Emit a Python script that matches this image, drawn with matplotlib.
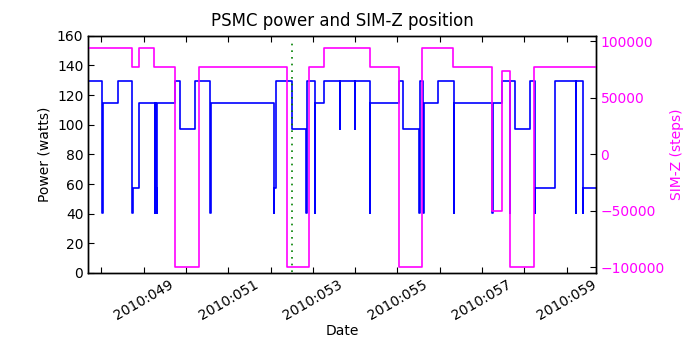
import matplotlib
matplotlib.use("Agg")
import matplotlib.pyplot as plt
import numpy as np

# times are 2010 day-of-year (fractional days)
power_time = [47.69, 48.017, 48.027, 48.387, 48.725, 48.735, 48.898, 49.257,
              49.267, 49.292, 49.305, 49.316, 49.734, 49.859, 50.221, 50.568,
              50.585, 52.080, 52.090, 52.120, 52.498, 52.836, 52.867, 53.048,
              53.058, 53.261, 53.639, 53.649, 53.993, 54.003, 54.348, 54.358,
              55.026, 55.134, 55.505, 55.522, 55.607, 55.617, 55.961, 56.332,
              56.342, 57.246, 57.256, 57.473, 57.655, 57.665, 57.773, 58.127,
              58.245, 58.255, 58.718, 59.214, 59.224, 59.387, 59.397, 59.69]
power = [129.4, 40.2, 114.6, 129.4, 40.2, 57.4, 114.6, 40.2,
         114.6, 57.4, 40.2, 114.6, 129.4, 97.1, 129.4, 40.2,
         114.6, 40.2, 57.4, 129.4, 97.1, 40.2, 129.4, 40.2,
         114.6, 129.4, 97.1, 129.4, 97.1, 129.4, 40.2, 114.6,
         129.4, 97.1, 40.2, 129.4, 40.2, 114.6, 129.4, 40.2,
         114.6, 40.2, 114.6, 129.4, 40.2, 129.4, 97.1, 129.4,
         40.2, 57.4, 129.4, 40.2, 129.4, 40.2, 57.4, 57.4]

simz_time = [47.69, 48.725, 48.898, 49.252, 49.734, 50.301, 52.380, 52.907,
             53.261, 54.348, 55.026, 55.576, 56.316, 57.246, 57.473, 57.655,
             58.229, 59.69]
simz = [94400, 77000, 94400, 77000, -99600, 77000, -99600, 77000,
        94400, 77000, -99600, 94400, 77000, -50000, 74000, -99600,
        77000, 77000]

now_day = 52.51
now_span = [0.5, 158]

tick_days = np.arange(48, 60)
tick_labels = ["2010:%03d" % d if d % 2 else "" for d in tick_days]

plt.rcParams["xtick.direction"] = "in"
plt.rcParams["ytick.direction"] = "in"
plt.rcParams["xtick.major.size"] = 4
plt.rcParams["ytick.major.size"] = 4
plt.rcParams["axes.linewidth"] = 1.0

fig = plt.figure(figsize=(7, 3.5), dpi=100)
ax = fig.add_axes([0.126, 0.22, 0.725, 0.678])
ax.step(power_time, power, where="post", color="b", lw=1.2)
ax.plot([now_day, now_day], now_span, color="g", lw=1.2, dashes=(1, 3))
ax.set_ylim(0, 160)
ax.set_xlim(47.686, 59.687)
ax.set_xticks(tick_days)
ax.set_xticklabels(tick_labels, rotation=30, fontsize=10)
ax.tick_params(axis="x", top=True)
ax.tick_params(axis="y", labelsize=10)
ax.set_ylabel("Power (watts)", fontsize=10)
ax.set_xlabel("Date", fontsize=10, labelpad=1)
ax.set_title("PSMC power and SIM-Z position", fontsize=12, pad=7)

ax2 = ax.twinx()
ax2.step(simz_time, simz, where="post", color="magenta", lw=1.2)
ax2.set_ylim(-105000, 105000)
ax2.set_yticks([-100000, -50000, 0, 50000, 100000])
ax2.tick_params(axis="y", labelcolor="magenta", labelsize=10)
ax2.set_ylabel("SIM-Z (steps)", color="magenta", fontsize=10)
ax2.set_xlim(47.686, 59.687)

fig.savefig("out.png", dpi=100)
